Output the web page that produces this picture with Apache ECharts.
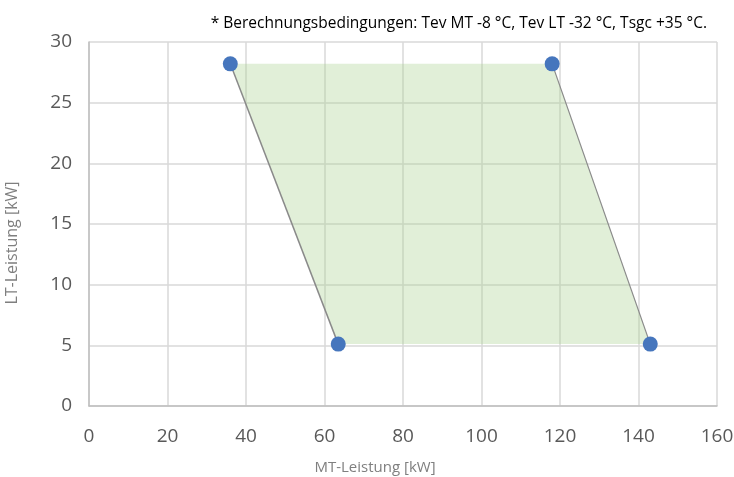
<!DOCTYPE html>
<html><head><meta charset="utf-8">
<script src="https://cdn.jsdelivr.net/npm/echarts@6/dist/echarts.min.js"></script>
<style>html,body{margin:0;padding:0;background:#fff}#c{width:734px;height:477px}</style>
</head><body><div id="c"></div>
<script>
const mtPower = [36, 118, 143, 63.5];
const ltPower = [28.2, 28.2, 5.1, 5.1];
const xTicks = [0, 20, 40, 60, 80, 100, 120, 140, 160];
const yTicks = [0, 5, 10, 15, 20, 25, 30];
const note = '* Berechnungsbedingungen: Tev MT -8 °C, Tev LT -32 °C, Tsgc +35 °C.';

const pts = mtPower.map((x, i) => [x, ltPower[i]]);
const font = '"Open Sans", "Noto Sans", sans-serif';
const chart = echarts.init(document.getElementById('c'));
chart.setOption({
  animation: false,
  title: {
    text: note, right: 22, top: 11,
    textStyle: {fontSize: 15.5, fontWeight: 'normal', color: '#000', fontFamily: font}
  },
  grid: {left: 89, right: 17, top: 42, bottom: 71, containLabel: false, outerBoundsMode: 'none'},
  xAxis: {
    type: 'value', min: xTicks[0], max: xTicks[xTicks.length - 1], interval: 20,
    name: 'MT-Leistung [kW]', nameLocation: 'middle', nameGap: 54,
    nameTextStyle: {fontSize: 15, color: '#7f7f7f', fontFamily: font, padding: [0, 56, 0, 0]},
    axisLine: {show: true, lineStyle: {color: '#bfbfbf', width: 1.5}},
    axisTick: {show: false},
    axisLabel: {fontSize: 19, color: '#595959', fontFamily: font, margin: 21},
    splitLine: {show: true, lineStyle: {color: '#d9d9d9', width: 1.5}}
  },
  yAxis: {
    type: 'value', min: yTicks[0], max: yTicks[yTicks.length - 1], interval: 5,
    name: 'LT-Leistung [kW]', nameLocation: 'middle', nameGap: 69,
    nameTextStyle: {fontSize: 16, color: '#7f7f7f', fontFamily: font, padding: [0, 38, 0, 0]},
    axisLine: {show: true, lineStyle: {color: '#bfbfbf', width: 1.5}},
    axisTick: {show: false},
    axisLabel: {fontSize: 19, color: '#595959', fontFamily: font, margin: 17},
    splitLine: {show: true, lineStyle: {color: '#d9d9d9', width: 1.5}}
  },
  series: [
    {
      type: 'custom',
      renderItem: function (params, api) {
        if (params.dataIndex !== 0) return null;
        const poly = pts.map(p => api.coord(p));
        return {
          type: 'group',
          children: [
            {type: 'polygon', shape: {points: poly},
             style: {fill: 'rgba(169,208,142,0.35)', stroke: 'none'}},
            {type: 'polyline', shape: {points: [poly[0], poly[3]]},
             style: {stroke: '#8a8a8a', lineWidth: 1.5, fill: 'none'}},
            {type: 'polyline', shape: {points: [poly[1], poly[2]]},
             style: {stroke: '#8a8a8a', lineWidth: 1.2, fill: 'none'}}
          ]
        };
      },
      data: pts,
      z: 1
    },
    {
      type: 'scatter', data: pts, symbolSize: 15,
      itemStyle: {color: '#4676bd', opacity: 1}, z: 3
    }
  ]
});
</script></body></html>
